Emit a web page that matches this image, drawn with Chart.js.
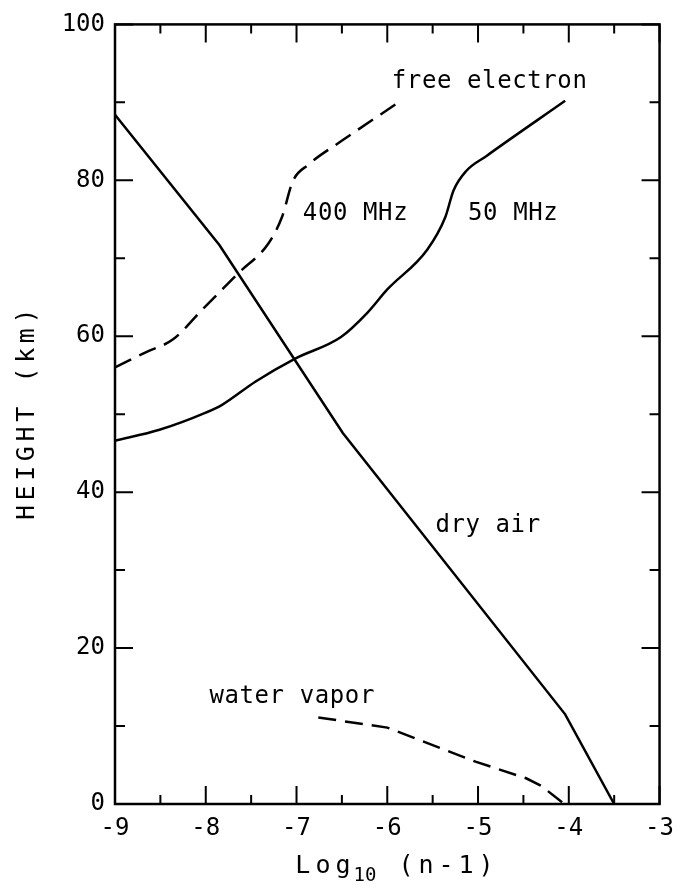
<!DOCTYPE html>
<html>
<head>
<meta charset="utf-8">
<script src="https://cdn.jsdelivr.net/npm/chart.js@4.4.1/dist/chart.umd.min.js"></script>
<style>
  body { margin: 0; background: #fff; }
  #wrap { width: 684px; height: 888px; }
</style>
</head>
<body>
<div id="wrap"><canvas id="myChart"></canvas></div>
<script>
// log10(n-1) vs height (km)
var dryAirX = [-9, -7.85, -6.49, -4.04, -3.5];
var dryAirY = [88.4, 71.7, 47.6, 11.5, 0];

var freeElec400X = [-9, -8.65, -8.36, -8.04, -7.64, -7.31, -7.16, -7.04, -6.87, -6.51, -5.85];
var freeElec400Y = [56.0, 58.0, 59.6, 63.4, 68.1, 71.9, 75.3, 79.9, 82.0, 85.0, 90.2];

var freeElec50X = [-9, -8.51, -8.0, -7.82, -7.45, -7.02, -6.51, -6.22, -6.0, -5.56, -5.36, -5.27, -5.13, -4.91, -4.04];
var freeElec50Y = [46.6, 48.0, 50.2, 51.2, 54.2, 57.1, 59.9, 63.0, 66.0, 71.1, 75.3, 78.7, 81.2, 83.1, 90.2];

var waterVaporX = [-6.76, -6.0, -5.02, -4.47, -4.3, -4.05];
var waterVaporY = [11.1, 9.8, 5.4, 3.3, 2.3, 0];

var xTicks = [-9, -8, -7, -6, -5, -4, -3];
var yTicks = [0, 20, 40, 60, 80, 100];

function pts(xs, ys) {
  return xs.map(function (x, i) { return { x: x, y: ys[i] }; });
}

var FONT = "'DejaVu Sans Mono', monospace";

var framePlugin = {
  id: "frame",
  afterDraw: function (chart) {
    var ctx = chart.ctx;
    var a = chart.chartArea;
    var xs = chart.scales.x, ys = chart.scales.y;
    ctx.save();
    ctx.strokeStyle = "#000";
    ctx.lineWidth = 2.5;
    ctx.strokeRect(a.left, a.top, a.right - a.left, a.bottom - a.top);

    // inward ticks, minor every 0.5 / 10
    ctx.lineWidth = 2;
    ctx.beginPath();
    for (var v = -9; v <= -3; v += 0.5) {
      var px = xs.getPixelForValue(v);
      var len = Number.isInteger(v) ? 18 : 9;
      ctx.moveTo(px, a.bottom); ctx.lineTo(px, a.bottom - len);
      ctx.moveTo(px, a.top); ctx.lineTo(px, a.top + len);
    }
    for (var h = 0; h <= 100; h += 10) {
      var py = ys.getPixelForValue(h);
      var l2 = h % 20 === 0 ? 18 : 10;
      ctx.moveTo(a.left, py); ctx.lineTo(a.left + l2, py);
      ctx.moveTo(a.right, py); ctx.lineTo(a.right - l2, py);
    }
    ctx.stroke();

    // curve labels
    ctx.fillStyle = "#000";
    ctx.font = "24px " + FONT;
    ctx.letterSpacing = "0.6px";
    ctx.textBaseline = "middle";
    ctx.textAlign = "left";
    var labels = [
      ["free electron", -5.95, 92.6],
      ["400 MHz", -6.93, 75.7],
      ["50 MHz", -5.11, 75.7],
      ["dry air", -5.47, 35.7],
      ["water vapor", -7.96, 13.7]
    ];
    labels.forEach(function (t) {
      ctx.fillText(t[0], xs.getPixelForValue(t[1]), ys.getPixelForValue(t[2]));
    });

    // x title with subscript
    ctx.font = "25px " + FONT;
    ctx.letterSpacing = "5px";
    var p1 = "Log", p3 = " (n-1)";
    var w1 = ctx.measureText(p1).width;
    var w3 = ctx.measureText(p3).width;
    ctx.font = "19px " + FONT;
    ctx.letterSpacing = "0px";
    var w2 = ctx.measureText("10").width;
    var cx = 397;
    var sx = cx - (w1 + w2 + w3) / 2;
    var ty = 873;
    ctx.textBaseline = "alphabetic";
    ctx.font = "25px " + FONT;
    ctx.letterSpacing = "5px";
    ctx.fillText(p1, sx, ty);
    ctx.fillText(p3, sx + w1 + w2, ty);
    ctx.font = "19px " + FONT;
    ctx.letterSpacing = "0px";
    ctx.fillText("10", sx + w1 - 2, ty + 8);

    // y title
    ctx.translate(27, 412);
    ctx.rotate(-Math.PI / 2);
    ctx.font = "25px " + FONT;
    ctx.letterSpacing = "4.6px";
    ctx.textAlign = "center";
    ctx.textBaseline = "middle";
    ctx.fillText("HEIGHT (km)", 0, 0);
    ctx.restore();
  }
};

var lineBase = {
  showLine: true,
  pointRadius: 0,
  borderColor: "#000",
  borderWidth: 2.5,
  fill: false
};

var data = {
  datasets: [
    Object.assign({}, lineBase, { label: "dry air", data: pts(dryAirX, dryAirY), tension: 0 }),
    Object.assign({}, lineBase, { label: "free electron 400 MHz", data: pts(freeElec400X, freeElec400Y), cubicInterpolationMode: "monotone", borderDash: [18, 9] }),
    Object.assign({}, lineBase, { label: "free electron 50 MHz", data: pts(freeElec50X, freeElec50Y), cubicInterpolationMode: "monotone" }),
    Object.assign({}, lineBase, { label: "water vapor", data: pts(waterVaporX, waterVaporY), tension: 0, borderDash: [18, 9] })
  ]
};

var config = {
  type: "scatter",
  data: data,
  options: {
    responsive: true,
    maintainAspectRatio: false,
    animation: false,
    layout: { padding: { top: 15, right: 19, left: 0, bottom: 0 } },
    scales: {
      x: {
        type: "linear",
        min: -9,
        max: -3,
        afterFit: function (s) { s.height = 84; },
        afterBuildTicks: function (s) { s.ticks = xTicks.map(function (v) { return { value: v }; }); },
        grid: { display: false, drawTicks: false },
        border: { display: false },
        ticks: {
          padding: 10,
          color: "#000",
          font: { family: FONT, size: 24 }
        }
      },
      y: {
        type: "linear",
        min: 0,
        max: 100,
        afterFit: function (s) { s.width = 115; },
        afterBuildTicks: function (s) { s.ticks = yTicks.map(function (v) { return { value: v }; }); },
        grid: { display: false, drawTicks: false },
        border: { display: false },
        ticks: {
          padding: 10,
          color: "#000",
          font: { family: FONT, size: 24 }
        }
      }
    },
    plugins: {
      legend: { display: false },
      tooltip: { enabled: false }
    }
  },
  plugins: [framePlugin]
};

var myChart = new Chart(document.getElementById("myChart").getContext("2d"), config);
</script>
</body>
</html>
